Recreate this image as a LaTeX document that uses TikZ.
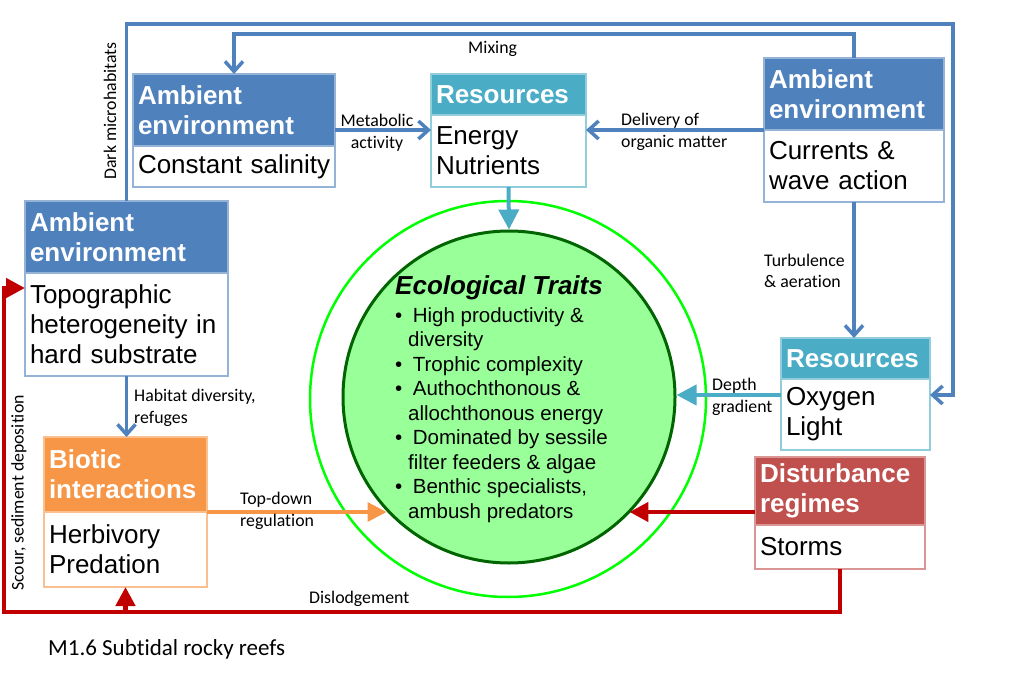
\documentclass[tikz,border=0pt]{standalone}
\usepackage{fontspec}
\setmainfont{Liberation Sans}
\newfontfamily\labfont[Ligatures=NoCommon]{Carlito}
\usetikzlibrary{arrows.meta}
\definecolor{aeblue}{HTML}{4F81BD}
\definecolor{aeborder}{HTML}{95B3D7}
\definecolor{rescyan}{HTML}{4BACC6}
\definecolor{resborder}{HTML}{92CDDC}
\definecolor{biorange}{HTML}{F79646}
\definecolor{bioborder}{HTML}{FAC090}
\definecolor{disred}{HTML}{C0504D}
\definecolor{disborder}{HTML}{D99694}
\definecolor{arrred}{HTML}{C00000}
\definecolor{ringgreen}{HTML}{00FF00}
\definecolor{darkgreen}{HTML}{006400}
\definecolor{fillgreen}{HTML}{99FF99}
\begin{document}
\begin{tikzpicture}[x=1pt,y=-1pt,
  boxbase/.style={anchor=north west, inner xsep=5pt, inner ysep=0pt, outer sep=0pt, align=left, line width=1.5pt},
  hdr/.style={boxbase, text=white, font=\fontsize{26}{30}\selectfont\bfseries},
  bdy/.style={boxbase, fill=white, text=black, font=\fontsize{26}{30}\selectfont},
  lab/.style={font=\labfont\fontsize{17.8}{21.5}\selectfont, inner sep=0pt, align=left},
  bluearr/.style={draw=aeblue, line width=3.5pt, -{Straight Barb[length=10pt,width=18pt]}},
  cyanarr/.style={draw=rescyan, line width=4pt, -{Triangle[length=20pt,width=20pt]}},
  orangearr/.style={draw=biorange, line width=3.5pt, -{Triangle[length=19pt,width=19pt]}},
  redarr/.style={draw=arrred, line width=4.5pt, -{Triangle[length=19pt,width=19pt]}}
]
\useasboundingbox (0,0) rectangle (1011,700);

% circles
\node[circle, draw=ringgreen, line width=2.5pt, minimum size=396pt, inner sep=0pt] (ring) at (508,399) {};
\node[circle, draw=darkgreen, fill=fillgreen, line width=3pt, minimum size=332pt, inner sep=0pt] (inner) at (509,397) {};
\node[anchor=base west, inner sep=0pt, font=\fontsize{26}{30}\selectfont\bfseries\itshape] (ettitle) at (395,295) {Ecological Traits};
\node[anchor=north west, inner sep=0pt, align=left, font=\fontsize{20.5}{24.5}\selectfont] (etlist) at (395,307)
{\textbullet\hspace*{10.5pt}High productivity \&\\
\hspace*{13pt}diversity\\
\textbullet\hspace*{10.5pt}Trophic complexity\\
\textbullet\hspace*{10.5pt}Authochthonous \&\\
\hspace*{13pt}allochthonous energy\\
\textbullet\hspace*{10.5pt}Dominated by sessile\\
\hspace*{13pt}filter feeders \& algae\\
\textbullet\hspace*{10.5pt}Benthic specialists,\\
\hspace*{13pt}ambush predators};

% boxes
\node[hdr, fill=aeblue, draw=aeborder, text width=192pt, minimum height=72pt] (ae1h) at (133,74) {Ambient\\environment};
\node[bdy, draw=aeborder, text width=192pt, minimum height=41pt] (ae1b) at (ae1h.south west) {\mbox{Constant salinity}};

\node[hdr, fill=rescyan, draw=resborder, text width=145pt, minimum height=41pt] (r1h) at (431,74) {Resources};
\node[bdy, draw=resborder, text width=145pt, minimum height=72pt] (r1b) at (r1h.south west) {Energy\\Nutrients};

\node[hdr, fill=aeblue, draw=aeborder, text width=170pt, minimum height=72pt] (ae2h) at (764,58) {Ambient\\environment};
\node[bdy, draw=aeborder, text width=170pt, minimum height=72pt] (ae2b) at (ae2h.south west) {Currents \&\\wave action};

\node[hdr, fill=aeblue, draw=aeborder, text width=193pt, minimum height=72pt] (ae3h) at (25,201) {Ambient\\environment};
\node[bdy, draw=aeborder, text width=193pt, minimum height=103pt] (ae3b) at (ae3h.south west) {Topographic\\\mbox{heterogeneity in}\\hard substrate};

\node[hdr, fill=biorange, draw=bioborder, text width=153pt, minimum height=75pt] (bh) at (44,437) {Biotic\\interactions};
\node[bdy, draw=bioborder, text width=153pt, minimum height=75pt] (bb) at (bh.south west) {Herbivory\\Predation};

\node[hdr, fill=rescyan, draw=resborder, text width=139pt, minimum height=41pt] (r2h) at (781,338) {Resources};
\node[bdy, draw=resborder, text width=139pt, minimum height=71pt] (r2b) at (r2h.south west) {Oxygen\\Light};

\node[hdr, fill=disred, draw=disborder, text width=160pt, minimum height=68pt] (dh) at (755,457) {Disturbance\\regimes};
\node[bdy, draw=disborder, text width=160pt, minimum height=44pt] (db) at (dh.south west) {Storms};

% coordinates
\coordinate (cTR) at (953,24);
\coordinate (ybot) at (0,612);
\coordinate (xleft) at (4,0);
\coordinate (met) at ([yshift=-20pt]ae1h.east);
\coordinate (del) at (ae2h.south west);
\coordinate (dep) at ([yshift=19.5pt]r2b.west);
\coordinate (dkin) at ([yshift=19.5pt]r2b.east);
\coordinate (tdn) at (bh.south east);
\coordinate (dis) at ([yshift=-21pt]dh.west);
\coordinate (sco) at ([yshift=36.5pt]ae3b.west);

% connectors
\draw[bluearr] (ae3h.north) -- (ae3h.north |- cTR) -- (cTR) |- (dkin);
\draw[bluearr] (ae2h.north) -- ++(0,-24) -| (ae1h.north);
\draw[bluearr] (met) -- (met -| r1b.west);
\draw[bluearr] (del) -- (del -| r1b.east);
\draw[bluearr] (ae2b.south) -- (ae2b.south |- r2h.north);
\draw[bluearr] (ae3b.south) -- (ae3b.south |- bh.north);
\draw[cyanarr] (r1b.south) -- (inner.north);
\draw[cyanarr] (dep) -- (dep -| inner.east);
\draw[orangearr] (tdn) -- (tdn -| inner.223.4);
\draw[redarr] (dis) -- (dis -| inner.316.6);
\draw[redarr] (db.south) -- (db.south |- ybot) -- (xleft |- ybot) -- (xleft |- sco) -- (sco);
\draw[redarr] (bb.south |- ybot) -- (bb.south);

% labels
\node[lab, rotate=90] (ldark) at (110,111) {Dark microhabitats};
\node[lab, anchor=base west] (lmix) at (468,54) {Mixing};
\node[lab, align=center] (lmet) at (377,133) {Metabolic\\activity};
\node[lab, anchor=west] (ldel) at (621,132) {Delivery of\\organic matter};
\node[lab, anchor=west] (lturb) at (764,271) {Turbulence\\\& aeration};
\node[lab, anchor=west] (ldep) at (712,397) {Depth\\gradient};
\node[lab, anchor=west] (lhab) at (134,408) {Habitat diversity,\\refuges};
\node[lab, anchor=west] (ltop) at (240,511) {Top-down\\regulation};
\node[lab, anchor=base west] (ldis) at (309,603) {Dislodgement};
\node[lab, rotate=90] (lscour) at (19,493) {Scour, sediment deposition};
\node[anchor=base west, inner sep=0pt, font=\labfont\fontsize{23}{27}\selectfont] (caption) at (48,655) {M1.6 Subtidal rocky reefs};
\end{tikzpicture}
\end{document}
